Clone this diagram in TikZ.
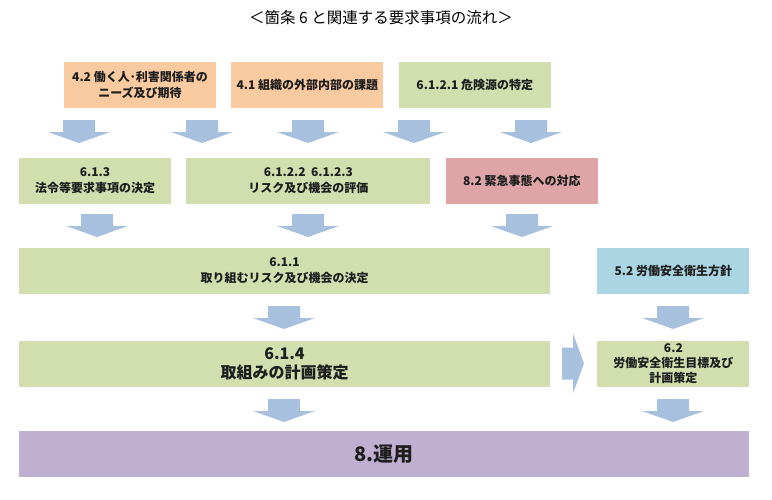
\documentclass[tikz,border=0pt]{standalone}
\usepackage{fontspec}
\setmainfont{Noto Sans CJK JP}
\usetikzlibrary{positioning}

\definecolor{peach}{HTML}{FACBA0}
\definecolor{leaf}{HTML}{D1DFAF}
\definecolor{rose}{HTML}{DFA4A5}
\definecolor{sky}{HTML}{A9D6E2}
\definecolor{lilac}{HTML}{BFB0D1}
\definecolor{arrowc}{HTML}{A7C0DE}
\definecolor{ink}{HTML}{1E1E1E}

\tikzset{
  darr/.pic={\fill[arrowc] (-16,0) -- (16,0) -- (16,12) -- (31,12) -- (0,23)
    -- (-31,12) -- (-16,12) -- cycle;},
  rarr/.pic={\fill[arrowc] (0,-16) -- (11,-16) -- (11,-30) -- (22,0) -- (11,30)
    -- (11,16) -- (0,16) -- cycle;}
}

\begin{document}
\begin{tikzpicture}[x=1pt,y=-1pt,
  box/.style={rectangle,draw=none,minimum height=46pt,minimum width=152pt,
    align=center,text=ink,font=\fontsize{12}{16}\selectfont\bfseries,inner sep=2pt},
  wide/.style={box,minimum width=531pt},
  big/.style={font=\fontsize{16}{19}\selectfont\bfseries}]

\useasboundingbox (0,0) rectangle (772,499);

\node (title) at (381,18) {\fontsize{15.5}{18}\selectfont ＜箇条 6 と関連する要求事項の流れ＞};

% upper inputs
\node[box,fill=peach] (n42) at (140,85) {4.2 働く人･利害関係者の\\ニーズ及び期待};
\node[box,fill=peach] (n41) [right=15pt of n42] {4.1 組織の外部内部の課題};
\node[box,fill=leaf] (n6121) [right=15pt of n41] {6.1.2.1 危険源の特定};

\node[box,fill=leaf] (n613) at (95,180.5) {6.1.3\\法令等要求事項の決定};
\node[box,fill=leaf,minimum width=244pt] (n6122) [right=15pt of n613] {6.1.2.2\ \ 6.1.2.3\\リスク及び機会の評価};
\node[box,fill=rose] (n82) [right=15pt of n6122] {8.2 緊急事態への対応};

\node[wide,fill=leaf] (n611) at (284.5,270.5) {6.1.1\\取り組むリスク及び機会の決定};
\node[box,fill=sky] (n52) [right=47pt of n611] {5.2 労働安全衛生方針};

\node[wide,fill=leaf,big] (n614) [below=47pt of n611] {6.1.4\\取組みの計画策定};
\node[box,fill=leaf,font=\fontsize{12}{15}\selectfont\bfseries] (n62) [below=47pt of n52] {6.2\\労働安全衛生目標及び\\計画策定};

\node[box,fill=lilac,minimum width=730pt,font=\fontsize{20}{24}\selectfont\bfseries] (n8) at (384,454) {8.運用};

% block arrows
\pic at (79,120) {darr};
\pic at (202,120) {darr};
\pic at (308,120) {darr};
\pic at (414,120) {darr};
\pic at (531,120) {darr};

\pic at (97,214) {darr};
\pic at (308,214) {darr};
\pic at (522,214) {darr};

\pic at (284,306) {darr};
\pic at (673,306) {darr};
\pic at (562,363.5) {rarr};

\pic at (284,399) {darr};
\pic at (673,399) {darr};

\end{tikzpicture}
\end{document}
